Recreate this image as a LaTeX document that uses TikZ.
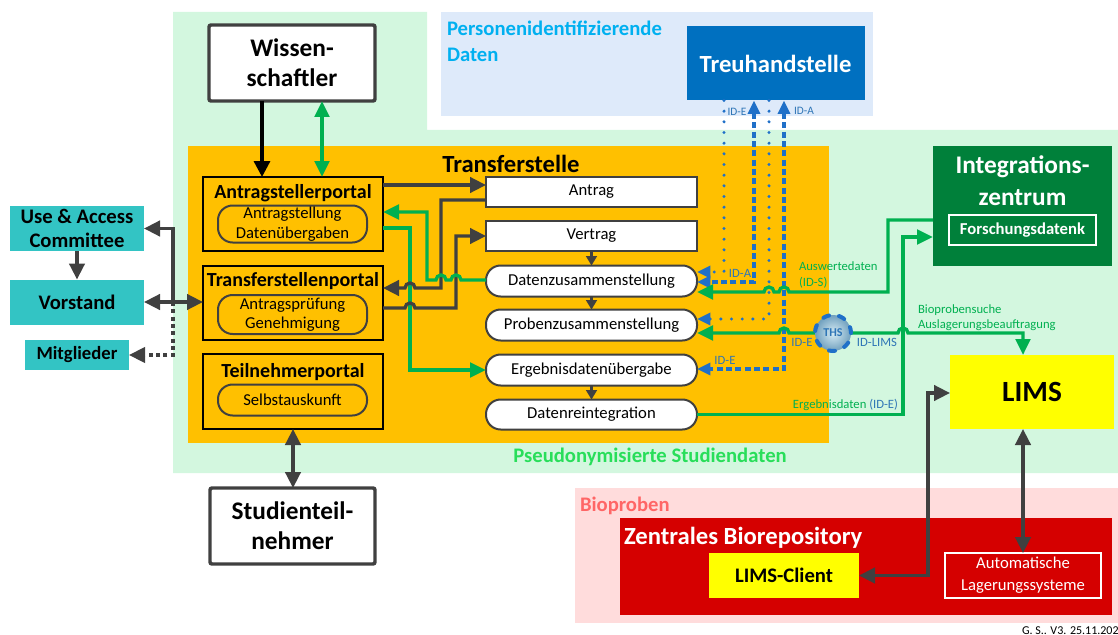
\documentclass[tikz,border=0pt]{standalone}
\usepackage{fontspec}
\setmainfont{Carlito}
\usetikzlibrary{arrows.meta}

\definecolor{bgGreen}{RGB}{211,247,223}
\definecolor{tfOrange}{RGB}{255,192,0}
\definecolor{persBlue}{RGB}{222,234,250}
\definecolor{thBlue}{RGB}{0,112,192}
\definecolor{uacTeal}{RGB}{51,196,196}
\definecolor{izGreen}{RGB}{0,128,58}
\definecolor{lnGreen}{RGB}{0,176,80}
\definecolor{lnGray}{RGB}{64,64,64}
\definecolor{lnBlue}{RGB}{31,112,200}
\definecolor{lblBlue}{RGB}{46,117,182}
\definecolor{cyanTxt}{RGB}{0,176,240}
\definecolor{bioPink}{RGB}{255,220,220}
\definecolor{bioRed}{RGB}{213,0,0}
\definecolor{bioTxt}{RGB}{255,102,102}
\definecolor{limsYellow}{RGB}{255,255,0}
\definecolor{pseudoGreen}{RGB}{40,222,90}

\newcommand\fsz[2]{\fontsize{#1}{#2}\selectfont}

\begin{document}
\begin{tikzpicture}[x=0.75pt,y=-0.75pt,
  every node/.style={inner sep=0pt,outer sep=0pt},
  wh/.style 2 args={minimum width=#1*0.75pt,minimum height=#2*0.75pt},
  actor/.style={draw=lnGray,line width=2.6pt,fill=white,rounded corners=1.5pt,align=center,font=\bfseries\fsz{19pt}{22.5pt}},
  portal/.style={draw=black,line width=1.9pt},
  ptitle/.style={font=\bfseries\fsz{15pt}{18pt}},
  pill/.style={draw=lnGray,line width=1.5pt,rounded corners=11pt,align=center,font=\fsz{12.5pt}{14.5pt}},
  proc/.style={draw=lnGray,line width=1.5pt,fill=white,font=\fsz{12.5pt}{15pt}},
  procr/.style={proc,rounded corners=11pt},
  tealbox/.style={fill=uacTeal,align=center,font=\bfseries\fsz{15.5pt}{17.5pt}},
  idlbl/.style={text=lblBlue,font=\fsz{9.5pt}{11pt}},
  idsmall/.style={text=lblBlue,font=\fsz{8.5pt}{10pt}},
  glbl/.style={text=lnGreen,align=left,font=\fsz{9.5pt}{11.5pt}},
  gArr/.style={draw=lnGreen,line width=2.5pt,-{Triangle[length=12pt,width=11pt]}},
  gBoth/.style={draw=lnGreen,line width=2.5pt,{Triangle[length=12pt,width=11pt]}-{Triangle[length=12pt,width=11pt]}},
  kArr/.style={draw=lnGray,line width=2.5pt,-{Triangle[length=12pt,width=11.5pt]}},
  kBoth/.style={draw=lnGray,line width=2.5pt,{Triangle[length=12pt,width=11.5pt]}-{Triangle[length=12pt,width=11.5pt]}},
  kSmall/.style={draw=lnGray,line width=1.6pt,-{Triangle[length=7pt,width=8pt]}},
  kDash/.style={draw=lnGray,line width=2.3pt,dash pattern=on 3pt off 2.5pt,-{Triangle[length=12pt,width=11.5pt]}},
  bDot/.style={draw=lnBlue,line width=2.5pt,line cap=round,dash pattern=on 0pt off 8pt},
  bDash/.style={draw=lnBlue,line width=2.4pt,dash pattern=on 4.5pt off 2.5pt},
  bTip/.style={-{Triangle[length=10pt,width=9pt]}},
  bBoth/.style={{Triangle[length=10pt,width=9pt]}-{Triangle[length=10pt,width=9pt]}}
]
\useasboundingbox (0,0) rectangle (1118,635);

% --- areas ---------------------------------------------------------
\fill[bgGreen] (173,12) -- (427,12) -- (427,130) -- (1118,130) -- (1118,473) -- (173,473) -- cycle;
\fill[persBlue] (441,12) rectangle (873,116);
\node[anchor=west,align=left,text=cyanTxt,font=\bfseries\fsz{15.5pt}{19.5pt}] (pidlbl) at (447,41) {Personenidentifizierende\\Daten};
\node[fill=thBlue,text=white,font=\bfseries\fsz{18.5pt}{22pt},wh={178}{74}] (treu) at (775.5,63.5) {Treuhandstelle};

\fill[bioPink] (575,488) rectangle (1118,623);
\node[anchor=west,text=bioTxt,font=\bfseries\fsz{15.5pt}{18pt}] (biolbl) at (580,506) {Bioproben};
\node[fill=bioRed,wh={492}{97}] (zb) at (866,566.5) {};
\node[anchor=west,text=white,font=\bfseries\fsz{18.5pt}{22pt}] (zbtitle) at (624,538) {Zentrales Biorepository};
\node[fill=limsYellow,font=\bfseries\fsz{15.5pt}{18pt},wh={150}{45}] (lc) at (784,575.5) {LIMS-Client};
\node[draw=white,line width=1.5pt,text=white,align=center,font=\fsz{12.5pt}{16.5pt},wh={156}{45}] (als) at (1023,575.5) {Automatische\\Lagerungssysteme};

% --- actors ----------------------------------------------------------
\node[actor,wh={166}{76}] (wiss) at (292,63) {Wissen-\\schaftler};
\node[actor,wh={165}{76}] (stud) at (292.5,526) {Studienteil-\\nehmer};

\node[tealbox,wh={134}{45}] (uac) at (77,228.5) {Use \& Access\\Committee};
\node[tealbox,wh={134}{45}] (vor) at (77,302) {Vorstand};
\node[tealbox,wh={104}{30},font=\bfseries\fsz{14pt}{16pt}] (mit) at (77,355) {Mitglieder};

% --- Transferstelle --------------------------------------------------
\node[fill=tfOrange,wh={641}{297}] (tf) at (508.5,294.5) {};
\node[font=\bfseries\fsz{18.5pt}{22pt}] (tftitle) at (511,164) {Transferstelle};

\node[portal,wh={180}{74}] (asp) at (293,214) {};
\node[ptitle] (asptitle) at (293,193) {Antragstellerportal};
\node[pill,wh={149}{37}] (aspin) at (292.5,224) {Antragstellung\\Datenübergaben};

\node[portal,wh={180}{74}] (tsp) at (293,303) {};
\node[ptitle] (tsptitle) at (293,281) {Transferstellenportal};
\node[pill,wh={149}{39}] (tspin) at (292.5,314.5) {Antragsprüfung\\Genehmigung};

\node[portal,wh={180}{75}] (tnp) at (293,391.5) {};
\node[ptitle] (tnptitle) at (293,372) {Teilnehmerportal};
\node[pill,wh={149}{31}] (tnpin) at (292.5,400) {Selbstauskunft};

\node[proc,wh={211}{30}] (antrag) at (591.5,192) {Antrag};
\node[proc,wh={211}{30}] (vertrag) at (591.5,236) {Vertrag};
\node[procr,wh={211}{31}] (dz) at (591.5,281) {Datenzusammenstellung};
\node[procr,wh={211}{31}] (pz) at (591.5,325) {Probenzusammenstellung};
\node[procr,wh={211}{31}] (eu) at (591.5,370) {Ergebnisdatenübergabe};
\node[procr,wh={211}{30}] (dr) at (591.5,414.5) {Datenreintegration};

% --- Integrationszentrum and LIMS ---------------------------------------
\node[fill=izGreen,wh={179}{120}] (iz) at (1022.5,206) {};
\node[text=white,align=center,font=\bfseries\fsz{19pt}{24pt}] (iztitle) at (1022.5,181) {Integrations-\\zentrum};
\node[draw=white,line width=1.5pt,text=white,font=\bfseries\fsz{12.5pt}{15pt},wh={147}{30}] (fd) at (1022.5,230) {Forschungsdatenk};
\node[fill=limsYellow,font=\bfseries\fsz{22pt}{26pt},wh={164}{74}] (lims) at (1032,392) {LIMS};

\node[text=pseudoGreen,font=\bfseries\fsz{15.5pt}{18pt}] (pseudolbl) at (650,457) {Pseudonymisierte Studiendaten};
\node[anchor=base west,font=\fsz{9pt}{10pt}] (footer) at (1022,634) {G. S.. V3. 25.11.202};

% --- connectors: actors ----------------------------------------------
\draw[draw=black,line width=2.5pt,-{Triangle[length=12pt,width=12pt]}] (wiss.south -| 262,0) -- (asp.north -| 262,0);
\draw[gBoth] (wiss.south -| 322,0) -- (asp.north -| 322,0);
\draw[kBoth] (tnp.south) -- (tnp.south |- stud.north);

\coordinate (jn) at (173,302);
\draw[kArr] (uac.south) -- (vor.north);
\draw[kBoth] (vor.east) -- (vor.east -| tsp.west);
\draw[kArr] (jn) |- (uac.east);
\draw[kDash] (jn) |- (mit.east);

% --- connectors: inside Transferstelle ---------------------------------
\draw[kArr] (asp.east |- 0,185) -- (antrag.west |- 0,185);
\draw[gArr] (asp.east |- 0,228) -- (410,228) -- (410,370) -- (eu.west);
\draw[kArr] (antrag.west |- 0,200) -- (441,200) -- (441,288) -- (415,288)
  arc[start angle=0,end angle=180,radius=3.75pt] -- (tsp.east |- 0,288);
\draw[kArr] (tsp.east |- 0,308) -- (405,308)
  arc[start angle=180,end angle=0,radius=3.75pt] -- (456,308) -- (456,236) -- (vertrag.west);
\draw[gArr] (dz.west |- 0,280) -- (461,280)
  arc[start angle=0,end angle=180,radius=3.75pt] -- (446,280)
  arc[start angle=0,end angle=180,radius=3.75pt] -- (427,280) -- (427,212) -- (asp.east |- 0,212);

\draw[kSmall] (vertrag.south) -- (dz.north);
\draw[kSmall] (dz.south) -- (pz.north);
\draw[kSmall] (eu.south) -- (dr.north);

% --- connectors: Treuhandstelle ----------------------------------------
\draw[bDot,bTip] (treu.south -| 724,0) -- (724,272) -- (dz.east |- 0,272);
\draw[bDash,bBoth] (treu.south -| 754,0) -- (754,282) -- (dz.east |- 0,282);
\draw[bDot,bTip] (treu.south -| 769,0) -- (769,319) -- (pz.east |- 0,319);
\draw[bDash,bBoth] (treu.south -| 784,0) -- (784,369) -- (eu.east |- 0,369);

% --- connectors: data flows -------------------------------------------
\draw[gArr] (iz.west |- 0,220) -- (888,220) -- (888,292) -- (789,292)
  arc[start angle=0,end angle=180,radius=3.75pt] -- (774,292)
  arc[start angle=0,end angle=180,radius=3.75pt] -- (dz.east |- 0,292);
\draw[gBoth] (pz.east |- 0,333) -- (779,333)
  arc[start angle=180,end angle=0,radius=3.75pt] -- (898,333)
  arc[start angle=180,end angle=0,radius=3.75pt] -- (1023,333) -- (lims.north -| 1023,0);
\draw[gArr] (dr.east) -- (903,414.5) -- (903,237) -- (iz.west |- 0,237);

\draw[kBoth] (lc.east) -| (928,393) -- (lims.west |- 0,393);
\draw[kBoth] (als.north) -- (als.north |- lims.south);

% --- pseudonymisation service ----------------------------------------
\node[circle,minimum size=27pt,inner color={rgb,255:red,215;green,236;blue,244},
  outer color={rgb,255:red,112;green,160;blue,190},draw=lnBlue,line width=3pt,
  dash pattern=on 4.5pt off 7.6pt,line cap=round,text=lblBlue,
  font=\bfseries\fsz{9pt}{10pt}] (ths) at (833,333) {THS};

% --- labels ------------------------------------------------------------
\node[idsmall] (lblte) at (737,112) {ID-E};
\node[idsmall] (lblta) at (804,111) {ID-A};
\node[idlbl] (lbla) at (740,273) {ID-A};
\node[idlbl] (lble1) at (802,342) {ID-E};
\node[idlbl] (lbllims) at (877,342) {ID-LIMS};
\node[idlbl] (lble2) at (725,360) {ID-E};
\node[glbl,anchor=west] (lblaus) at (799,275) {Auswertedaten\\(ID-S)};
\node[glbl,anchor=west] (lblbio) at (918,317.5) {Bioprobensuche\\Auslagerungsbeauftragung};
\node[glbl,anchor=east] (lblerg) at (898,405) {Ergebnisdaten \textcolor{lblBlue}{(ID-E)}};
\end{tikzpicture}
\end{document}
